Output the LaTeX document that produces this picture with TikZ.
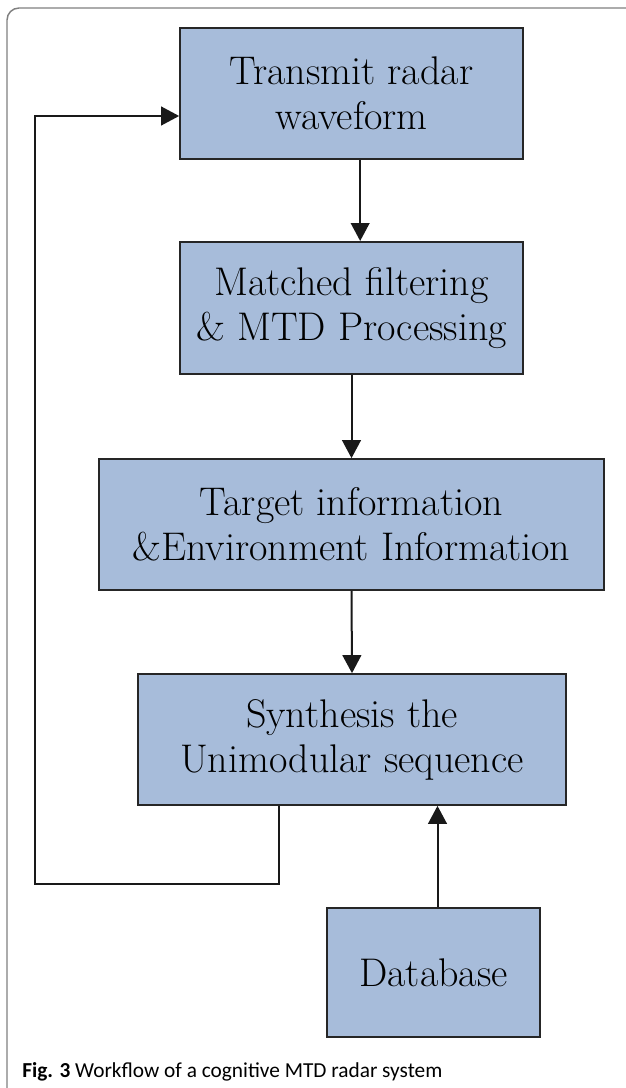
\documentclass[tikz,border=0pt]{standalone}
\usepackage{fontspec}
\usepackage{tikz}
\usetikzlibrary{arrows.meta}
\newfontfamily\capfont{Carlito}
\definecolor{boxblue}{RGB}{167,188,218}
\definecolor{framegray}{RGB}{128,128,128}

\begin{document}
\begin{tikzpicture}[x=0.75pt, y=-0.75pt,
  block/.style={rectangle,draw=black!85,line width=1.5pt,fill=boxblue,align=center,
    font=\fontsize{30}{33.8}\selectfont},
  arr/.style={-{Triangle[length=13.5pt,width=14pt]},line width=1.5pt,draw=black!90}]
\useasboundingbox (0,0) rectangle (625,1088);

% Frame round the figure
\draw[framegray,line width=1.1pt,rounded corners=9pt] (7,1100) -- (7,8) -- (640,8);

% Processing blocks
\node[block,minimum width=257pt,minimum height=98pt] at (351.5,93.5) (tx) {Transmit radar\\waveform};
\node[block,minimum width=257pt,minimum height=99pt] at (351.5,308) (mf) {Matched filtering\\\& MTD Processing};
\node[block,minimum width=379pt,minimum height=98pt] at (351.5,524.5) (info) {Target information\\\&Environment Information};
\node[block,minimum width=321pt,minimum height=98pt] at (352,739.5) (syn) {Synthesis the\\Unimodular sequence};
\node[block,minimum width=160pt,minimum height=97pt] at (433.5,972.5) (db) {Database};

% Corner points of the feedback loop
\coordinate (lp) at (35,116);
\coordinate (bp) at (279,884);

% Connections down the chain
\draw[arr] ([xshift=6.5pt]tx.south) -- ([xshift=6.5pt]mf.north);
\draw[arr] (mf.south) -- (info.north);
\draw[arr] (info.south) -- (syn.north);
\draw[arr] ([xshift=3pt]db.north) -- ([xshift=3pt]db.north |- syn.south);

% Feedback to the transmitter
\draw[arr] (bp |- syn.south) -- (bp) -| (lp) -- (lp -| tx.west);

% Caption
\node[anchor=base west,inner sep=0pt,font=\capfont\fontsize{16}{18}\selectfont] at (22,1077) (cap)
  {\textbf{Fig. 3} Workflow of a cognitive MTD radar system};
\end{tikzpicture}
\end{document}
